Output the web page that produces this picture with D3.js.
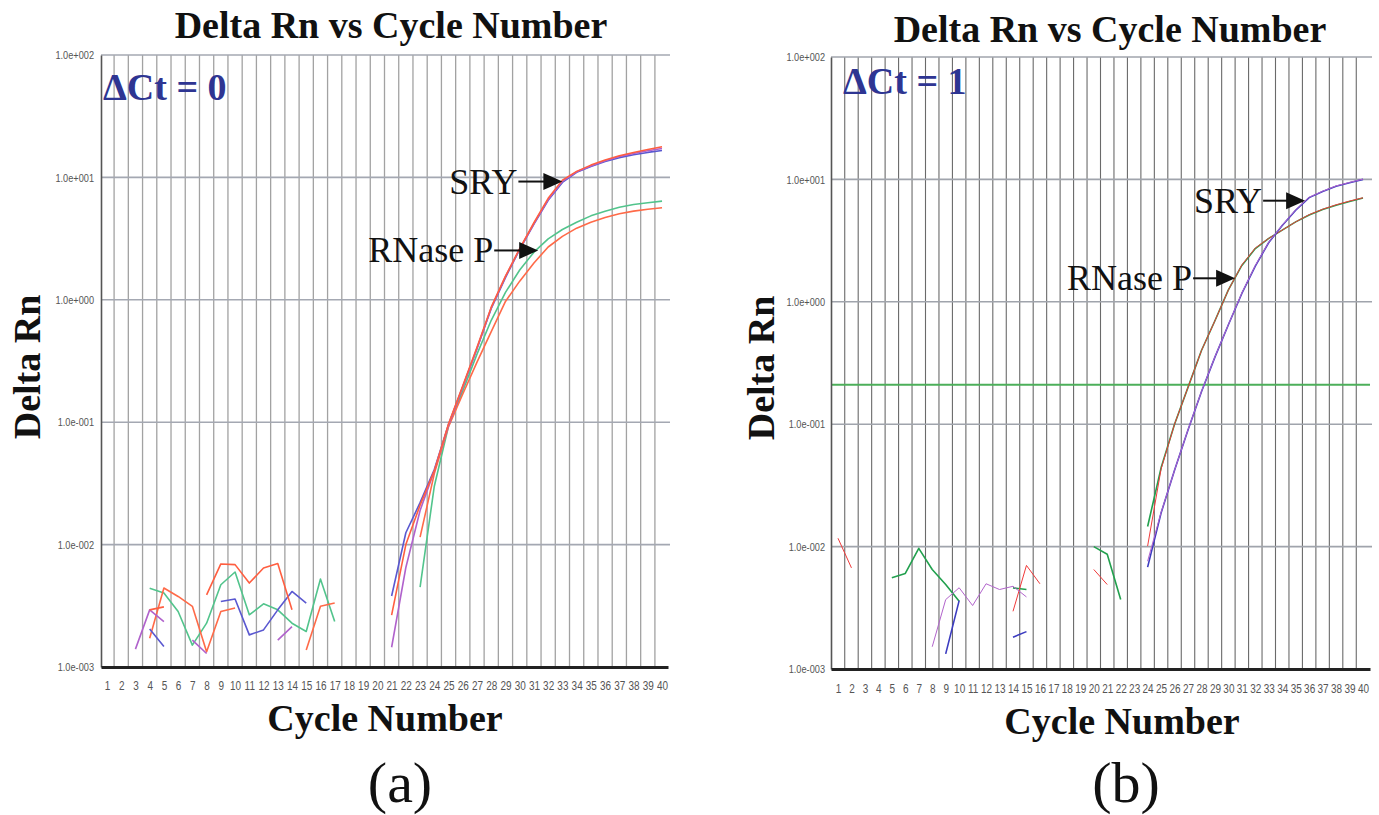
<!DOCTYPE html>
<html><head><meta charset="utf-8">
<script src="https://cdn.jsdelivr.net/npm/d3@7"></script>
<style>body{margin:0;background:#fff} svg{display:block}</style>
</head><body>
<svg id="chart" width="1379" height="815"></svg>
<script>
// ---------- data ----------
const cycles = d3.range(1, 41);
const yTickValues = [1e-3, 1e-2, 1e-1, 1e0, 1e1, 1e2];
const yTickLabels = ["1.0e-003", "1.0e-002", "1.0e-001", "1.0e+000", "1.0e+001", "1.0e+002"];
const titleText = "Delta Rn vs Cycle Number";
const yLabelText = "Delta Rn";
const xLabelText = "Cycle Number";
const thresholdB = 0.21;

// Panel (a)
const aBlue = {start: 4, values: [0.00204, 0.00147, null, null, null, 0.00343, 0.00359, 0.00183, 0.00201, 0.00293, 0.00414, 0.00333, null, null, null, null, null,
  0.0038, 0.0125, 0.022, 0.041, 0.096, 0.195, 0.40, 0.85, 1.52, 2.58, 4.15, 6.5, 9.1, 11.0, 12.3, 13.5, 14.5, 15.3, 16.0, 16.6]};
const aPurple = {start: 3, values: [0.0014, 0.00293, 0.00235, null, 0.00166, 0.00129, null, null, null, null, 0.00166, 0.00214, null, null, null, null, null, null,
  0.00145, 0.0065, 0.019, 0.040, 0.095, 0.195, 0.40, 0.86, 1.55, 2.6, 4.2, 6.6, 9.3, 11.1, 12.4, 13.7, 14.8, 15.7, 16.5, 17.2]};
const aRed = {start: 4, values: [0.00293, 0.0031, null, null, 0.00389, 0.00695, 0.00686, 0.00485, 0.00644, 0.007, 0.00293, null, null, null, null, null, null,
  0.00265, 0.0100, 0.021, 0.040, 0.097, 0.198, 0.41, 0.87, 1.56, 2.62, 4.26, 6.75, 9.5, 11.2, 12.6, 13.9, 15.0, 16.0, 16.9, 17.8]};
const aOrange = {start: 4, values: [0.00172, 0.00442, 0.00377, 0.00313, 0.00133, 0.00284, 0.00303, null, null, null, null, 0.00138, 0.00313, 0.00333, null, null, null, null, null,
  0.0115, 0.038, 0.092, 0.17, 0.31, 0.55, 0.97, 1.42, 2.0, 2.7, 3.3, 3.85, 4.3, 4.7, 5.05, 5.3, 5.5, 5.65]};
const aGreen = {start: 4, values: [0.0044, 0.00402, 0.00284, 0.00151, 0.00228, 0.0047, 0.00597, 0.00267, 0.00328, 0.00293, 0.00228, 0.00195, 0.00523, 0.00235, null, null, null, null, null,
  0.0045, 0.03, 0.093, 0.18, 0.36, 0.68, 1.15, 1.75, 2.45, 3.15, 3.75, 4.3, 4.85, 5.3, 5.7, 6.0, 6.2, 6.4]};

// Panel (b)
const bRed = {start: 1, values: [0.0117, 0.0067, null, null, null, null, null, null, null, null, null, null, null, 0.00296, 0.00702, 0.00497, null, null, null, 0.0065, 0.0049, null, null,
  0.0101, 0.043, 0.10, 0.20, 0.40, 0.70, 1.25, 2.0, 2.75, 3.3, 3.85, 4.5, 5.15, 5.7, 6.2, 6.65, 7.08]};
const bGreen = {start: 5, values: [0.00556, 0.00604, 0.00968, 0.0065, 0.0049, 0.00357, null, null, null, 0.0046, 0.00446, null, null, null, null, 0.01, 0.00865, 0.00369, null,
  0.0146, 0.044, 0.10, 0.20, 0.40, 0.70, 1.25, 1.98, 2.72, 3.3, 3.85, 4.5, 5.12, 5.68, 6.15, 6.6, 7.05]};
const bBlue = {start: 9, values: [0.00133, 0.00362, null, null, null, 0.00182, 0.00202, null, null, null, null, null, null, null, null,
  0.0068, 0.0188, 0.042, 0.0895, 0.184, 0.353, 0.65, 1.17, 1.96, 3.05, 4.2, 5.6, 7.1, 7.95, 8.8, 9.4, 10.0]};
const bPurple = {start: 8, values: [0.00152, 0.00369, 0.00461, 0.0033, 0.00497, 0.00446, 0.00474, 0.00388, null, null, null, null, null, null, null, null,
  0.0076, 0.019, 0.042, 0.09, 0.185, 0.355, 0.65, 1.18, 1.98, 3.07, 4.22, 5.65, 7.15, 8.0, 8.85, 9.45, 10.05]};

// annotation anchors (cycle, value at arrow tip)
const aSryTip = [33.0, 9.25], aRnaseTip = [31.3, 2.53];
const bSryTip = [35.7, 6.7], bRnaseTip = [30.5, 1.556];

// ---------- drawing ----------
const svg = d3.select("#chart");
const serif = "'Liberation Serif','Times New Roman',serif";
const narrow = "'Liberation Sans Narrow','Arial Narrow','Liberation Sans',Arial,sans-serif";

function drawPanel(cfg) {
  const g = svg.append("g");
  const x = d3.scaleLinear().domain(cfg.xDomain).range([cfg.left, cfg.right]);
  const y = d3.scaleLog().domain([1e-3, 1e2]).range([cfg.bottom, cfg.top]);

  // vertical grid (between cycles)
  g.append("g").selectAll("line").data(cycles.slice(0, 39)).join("line")
    .attr("x1", d => x(d + 0.5)).attr("x2", d => x(d + 0.5))
    .attr("y1", cfg.top).attr("y2", cfg.bottom)
    .attr("stroke", cfg.vGrid).attr("stroke-width", cfg.vGridW);
  // horizontal decades
  g.append("g").selectAll("line").data(yTickValues.slice(1)).join("line")
    .attr("x1", cfg.left).attr("x2", cfg.right + 2)
    .attr("y1", d => y(d)).attr("y2", d => y(d))
    .attr("stroke", cfg.hGrid).attr("stroke-width", 1.6);

  if (cfg.threshold) {
    g.append("line").attr("x1", cfg.left).attr("x2", cfg.right)
      .attr("y1", y(cfg.threshold)).attr("y2", y(cfg.threshold))
      .attr("stroke", "#4caf5a").attr("stroke-width", 2.2);
  }

  const line = d3.line().defined(d => d.v != null).x(d => x(d.c)).y(d => y(d.v));
  cfg.series.forEach(s => {
    const pts = s.data.values.map((v, i) => ({c: s.data.start + i, v}));
    g.append("path").attr("d", line(pts)).attr("fill", "none")
      .attr("stroke", s.color).attr("stroke-width", s.w || cfg.lineW)
      .attr("stroke-linejoin", "round");
  });

  // axes
  const ya = g.append("g").attr("transform", `translate(${cfg.left},0)`)
    .call(d3.axisLeft(y).tickValues(yTickValues).tickFormat((d, i) => yTickLabels[i]).tickSize(0).tickPadding(cfg.yPad));
  ya.select(".domain").attr("stroke", "#555").attr("stroke-width", 1.6);
  ya.selectAll("text").attr("font-family", narrow).attr("font-size", 11.5).attr("fill", "#555")
    .attr("x", -cfg.yPad / 0.8).attr("transform", "scale(0.8,1)");

  const xa = g.append("g").attr("transform", `translate(0,${cfg.bottom})`)
    .call(d3.axisBottom(x).tickValues(cycles).tickSize(0).tickPadding(cfg.xPad));
  xa.select(".domain").attr("stroke", "#222").attr("stroke-width", 3.2);
  xa.selectAll("text").attr("font-family", narrow).attr("font-size", 13.5).attr("fill", "#555")
    .attr("transform", "scale(0.74,1)");

  // texts
  g.append("text").attr("x", cfg.titleX).attr("y", cfg.titleY).attr("text-anchor", "middle")
    .attr("font-family", serif).attr("font-weight", "bold").attr("font-size", 38).attr("fill", "#111")
    .text(titleText);
  g.append("text").attr("transform", `translate(${cfg.yLabX},${cfg.yLabY}) rotate(-90)`).attr("text-anchor", "middle")
    .attr("font-family", serif).attr("font-weight", "bold").attr("font-size", 38).attr("fill", "#111")
    .text(yLabelText);
  g.append("text").attr("x", cfg.xLabX).attr("y", cfg.xLabY).attr("text-anchor", "middle")
    .attr("font-family", serif).attr("font-weight", "bold").attr("font-size", 38).attr("fill", "#111")
    .text(xLabelText);
  g.append("text").attr("x", cfg.tagX).attr("y", 802).attr("text-anchor", "middle")
    .attr("font-family", serif).attr("font-size", 58).attr("fill", "#111")
    .text(cfg.tag);
  g.append("text").attr("x", cfg.left + cfg.dctDx).attr("y", cfg.top + cfg.dctDy)
    .attr("font-family", serif).attr("font-weight", "bold").attr("font-size", 38).attr("fill", "#2e3592")
    .text(cfg.dct);

  // annotations with arrows
  cfg.notes.forEach(n => {
    const tx = x(n.tip[0]), ty = y(n.tip[1]);
    const x0 = tx - n.len;
    g.append("line").attr("x1", x0).attr("x2", tx - 18).attr("y1", ty).attr("y2", ty)
      .attr("stroke", "#111").attr("stroke-width", 2);
    g.append("path").attr("d", `M${tx},${ty} L${tx - 19},${ty - 8.5} L${tx - 19},${ty + 8.5} Z`).attr("fill", "#111");
    g.append("text").attr("x", x0 - 1).attr("y", ty + 12).attr("text-anchor", "end")
      .attr("font-family", serif).attr("font-size", 36).attr("fill", "#111").text(n.text);
  });
}

drawPanel({
  left: 101, right: 668, top: 55, bottom: 667, xDomain: [0.58, 40.42],
  vGrid: "#a2a2a2", vGridW: 1.3, hGrid: "#a4a8b2", lineW: 1.6, yPad: 7, xPad: 13,
  titleX: 391, titleY: 38, yLabX: 40, yLabY: 367, xLabX: 385, xLabY: 731, tagX: 400, tag: "(a)",
  dct: "\u0394Ct = 0", dctDx: 2, dctDy: 45,
  series: [
    {data: aGreen, color: "#52c48c"}, {data: aOrange, color: "#ff6a48"},
    {data: aBlue, color: "#5a58d0"}, {data: aPurple, color: "#b062cc"}, {data: aRed, color: "#ff5e40"}
  ],
  notes: [{tip: aSryTip, len: 44, text: "SRY"}, {tip: aRnaseTip, len: 44, text: "RNase P"}]
});

drawPanel({
  left: 831, right: 1370, top: 57, bottom: 669, xDomain: [0.48, 40.52],
  vGrid: "#6a6a6a", vGridW: 1.1, hGrid: "#a0a4ac", lineW: 1.2, yPad: 6, xPad: 14,
  titleX: 1110, titleY: 42, yLabX: 774, yLabY: 368, xLabX: 1122, xLabY: 734, tagX: 1126, tag: "(b)",
  dct: "\u0394Ct = 1", dctDx: 12, dctDy: 37,
  threshold: thresholdB,
  series: [
    {data: bGreen, color: "#22a04e", w: 1.6}, {data: bRed, color: "#f03a3a", w: 1.0},
    {data: bBlue, color: "#3c3cc0", w: 1.6}, {data: bPurple, color: "#b264cc", w: 1.0}
  ],
  notes: [{tip: bSryTip, len: 42, text: "SRY"}, {tip: bRnaseTip, len: 42, text: "RNase P"}]
});
</script>
</body></html>
